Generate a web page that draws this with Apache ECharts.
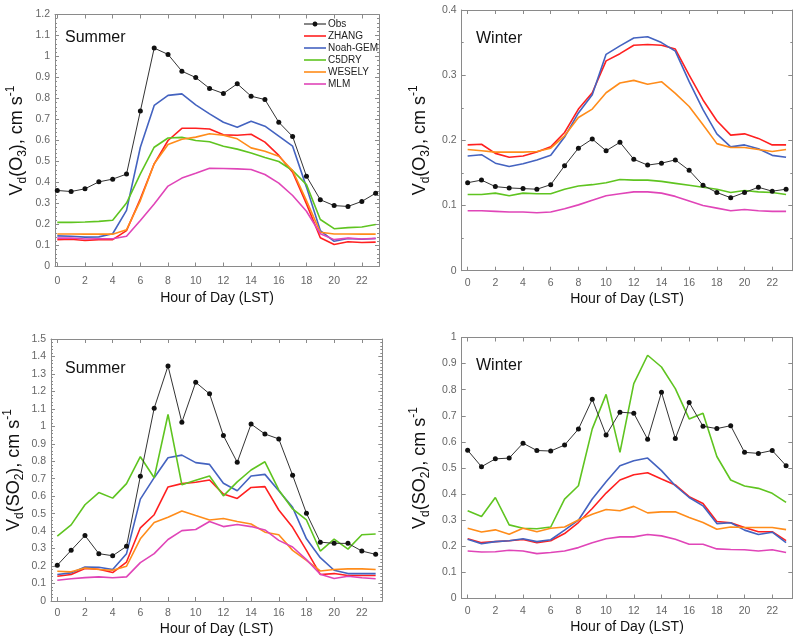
<!DOCTYPE html>
<html><head><meta charset="utf-8">
<script src="https://cdn.jsdelivr.net/npm/echarts@6/dist/echarts.min.js"></script>
<style>html,body{margin:0;padding:0;background:#fff}#c{width:800px;height:641px}</style>
</head><body><div id="c"></div>
<script>
const hours = [0,1,2,3,4,5,6,7,8,9,10,11,12,13,14,15,16,17,18,19,20,21,22,23];
const xTicks = [0,2,4,6,8,10,12,14,16,18,20,22];
const seriesNames = ['Obs','ZHANG','Noah-GEM','C5DRY','WESELY','MLM'];
const panelTitles = ['Summer','Winter','Summer','Winter'];

// Panel 1: Summer O3
const sO3_Obs   = [0.362,0.357,0.370,0.403,0.416,0.440,0.740,1.040,1.010,0.930,0.900,0.848,0.824,0.870,0.811,0.795,0.687,0.619,0.430,0.318,0.290,0.286,0.310,0.349];
const sO3_ZHANG = [0.128,0.130,0.124,0.128,0.128,0.171,0.322,0.489,0.600,0.658,0.658,0.655,0.627,0.625,0.630,0.592,0.529,0.449,0.298,0.137,0.105,0.118,0.114,0.116];
const sO3_NOAH  = [0.146,0.144,0.140,0.141,0.156,0.267,0.568,0.767,0.815,0.822,0.770,0.727,0.687,0.663,0.692,0.668,0.621,0.573,0.378,0.171,0.120,0.133,0.130,0.133];
const sO3_C5    = [0.210,0.210,0.212,0.215,0.220,0.302,0.441,0.568,0.612,0.615,0.600,0.594,0.573,0.559,0.540,0.519,0.500,0.457,0.390,0.224,0.180,0.185,0.188,0.200];
const sO3_WES   = [0.155,0.155,0.154,0.155,0.154,0.175,0.314,0.489,0.581,0.606,0.616,0.632,0.625,0.608,0.565,0.549,0.525,0.457,0.314,0.163,0.155,0.155,0.154,0.154];
const sO3_MLM   = [0.135,0.136,0.131,0.132,0.132,0.144,0.219,0.298,0.383,0.421,0.444,0.468,0.467,0.465,0.462,0.438,0.397,0.338,0.263,0.156,0.128,0.135,0.131,0.134];

// Panel 2: Winter O3
const wO3_Obs   = [0.135,0.139,0.129,0.127,0.126,0.125,0.132,0.161,0.188,0.202,0.184,0.197,0.171,0.162,0.165,0.170,0.154,0.131,0.120,0.112,0.120,0.128,0.122,0.125];
const wO3_ZHANG = [0.193,0.194,0.180,0.174,0.176,0.182,0.190,0.212,0.248,0.273,0.322,0.333,0.346,0.347,0.346,0.340,0.300,0.262,0.230,0.208,0.210,0.203,0.193,0.193];
const wO3_NOAH  = [0.176,0.178,0.165,0.160,0.164,0.170,0.177,0.205,0.242,0.270,0.332,0.345,0.357,0.359,0.350,0.337,0.290,0.247,0.210,0.190,0.193,0.187,0.177,0.174];
const wO3_C5    = [0.117,0.117,0.119,0.115,0.119,0.118,0.118,0.125,0.130,0.132,0.135,0.140,0.139,0.139,0.137,0.134,0.131,0.128,0.125,0.120,0.123,0.121,0.120,0.117];
const wO3_WES   = [0.186,0.184,0.182,0.182,0.182,0.183,0.188,0.207,0.235,0.248,0.273,0.288,0.292,0.286,0.290,0.272,0.252,0.224,0.195,0.189,0.189,0.186,0.183,0.186];
const wO3_MLM   = [0.092,0.092,0.091,0.090,0.090,0.089,0.090,0.095,0.101,0.108,0.115,0.118,0.121,0.121,0.119,0.114,0.107,0.100,0.096,0.092,0.094,0.092,0.091,0.091];

// Panel 3: Summer SO2
const sSO2_Obs   = [0.205,0.290,0.375,0.271,0.259,0.313,0.714,1.104,1.345,1.023,1.252,1.186,0.947,0.794,1.013,0.956,0.928,0.720,0.502,0.337,0.330,0.330,0.286,0.267];
const sSO2_ZHANG = [0.142,0.152,0.186,0.182,0.163,0.223,0.419,0.494,0.653,0.672,0.680,0.693,0.612,0.587,0.650,0.655,0.521,0.422,0.290,0.152,0.157,0.146,0.146,0.146];
const sSO2_NOAH  = [0.152,0.161,0.195,0.193,0.180,0.271,0.583,0.706,0.820,0.835,0.792,0.782,0.674,0.631,0.716,0.725,0.631,0.536,0.356,0.248,0.176,0.157,0.157,0.157];
const sSO2_C5    = [0.371,0.436,0.551,0.621,0.589,0.672,0.826,0.706,1.068,0.665,0.691,0.716,0.602,0.682,0.750,0.797,0.636,0.527,0.464,0.286,0.354,0.297,0.379,0.384];
const sSO2_WES   = [0.170,0.167,0.189,0.180,0.176,0.199,0.356,0.449,0.479,0.515,0.489,0.464,0.472,0.455,0.441,0.394,0.379,0.290,0.233,0.172,0.180,0.184,0.184,0.180];
const sSO2_MLM   = [0.119,0.127,0.134,0.138,0.133,0.138,0.220,0.271,0.352,0.403,0.409,0.455,0.426,0.438,0.426,0.407,0.347,0.309,0.237,0.153,0.129,0.142,0.133,0.127];

// Panel 4: Winter SO2
const wSO2_Obs   = [0.568,0.505,0.535,0.538,0.595,0.567,0.565,0.588,0.649,0.763,0.626,0.714,0.710,0.610,0.790,0.613,0.751,0.660,0.651,0.662,0.560,0.556,0.567,0.509];
const wSO2_ZHANG = [0.229,0.214,0.218,0.221,0.226,0.214,0.221,0.249,0.291,0.345,0.404,0.454,0.474,0.482,0.458,0.435,0.390,0.364,0.295,0.290,0.272,0.256,0.256,0.222];
const wSO2_NOAH  = [0.227,0.210,0.218,0.221,0.229,0.218,0.225,0.262,0.300,0.381,0.447,0.509,0.528,0.538,0.490,0.432,0.387,0.355,0.287,0.290,0.262,0.245,0.254,0.214];
const wSO2_C5    = [0.336,0.314,0.387,0.282,0.269,0.267,0.274,0.381,0.432,0.650,0.782,0.560,0.823,0.932,0.887,0.804,0.688,0.710,0.544,0.454,0.431,0.422,0.403,0.368];
const wSO2_WES   = [0.269,0.255,0.263,0.246,0.269,0.256,0.269,0.274,0.301,0.323,0.341,0.336,0.353,0.328,0.332,0.332,0.310,0.291,0.265,0.274,0.272,0.272,0.272,0.264];
const wSO2_MLM   = [0.182,0.178,0.179,0.185,0.182,0.172,0.176,0.182,0.195,0.214,0.229,0.236,0.236,0.245,0.240,0.227,0.208,0.208,0.190,0.188,0.187,0.182,0.187,0.176];

const panelData = [
  [sO3_Obs, sO3_ZHANG, sO3_NOAH, sO3_C5, sO3_WES, sO3_MLM],
  [wO3_Obs, wO3_ZHANG, wO3_NOAH, wO3_C5, wO3_WES, wO3_MLM],
  [sSO2_Obs, sSO2_ZHANG, sSO2_NOAH, sSO2_C5, sSO2_WES, sSO2_MLM],
  [wSO2_Obs, wSO2_ZHANG, wSO2_NOAH, wSO2_C5, wSO2_WES, wSO2_MLM]
];
const yMax = [1.2, 0.4, 1.5, 1.0];
const species = ['3', '3', '2', '2'];
const speciesName = ['O', 'O', 'SO', 'SO'];

// layout (styles only)
const colors = ['#333333','#ff2020','#4463c0','#5fc420','#ff8c1a','#e045b8'];
const grids = [
  {left:55, top:14.5, width:324, height:252, xmin:-0.166, xmax:23.24, minor:5, nameGap:26, lblMargin:9, xNameGap:25},
  {left:461.7, top:10, width:330.6, height:260.7, xmin:-0.43, xmax:23.45, minor:2, nameGap:30, lblMargin:7, xNameGap:21.5},
  {left:51, top:339, width:331.3, height:262, xmin:-0.455, xmax:23.48, minor:5, nameGap:25, lblMargin:7, xNameGap:21.5},
  {left:461.7, top:337.5, width:330.6, height:261, xmin:-0.43, xmax:23.45, minor:0, nameGap:30, lblMargin:7, xNameGap:21.5}
];
const titlePos = [[65,30],[476,31],[65,361],[476,358]];

const axisColor = '#8a8a8a';
const labelColor = '#666';
const fontFam = '"Liberation Sans", Arial, sans-serif';
const lineIcon = 'path://M0,0M0,10M0,4.2H22V5.8H0Z';
const obsIcon = 'path://M0,0M0,10M0,4.5H8.551A2.5,2.5,0,0,1,13.449,4.5H22V5.5H13.449A2.5,2.5,0,0,1,8.551,5.5H0Z';

const option = {
  animation: false,
  backgroundColor: '#fff',
  textStyle: {fontFamily: fontFam},
  title: panelTitles.map((t,i)=>({text:t, left:titlePos[i][0], top:titlePos[i][1], padding:0,
    textStyle:{fontSize:16, fontWeight:'normal', color:'#111', fontFamily:fontFam}})),
  legend: {
    orient:'vertical', left:304, top:18, itemWidth:22, itemHeight:10, itemGap:0,
    padding:0,
    data: seriesNames.map((n,k)=>({name:n, icon: k===0 ? obsIcon : lineIcon})),
    textStyle:{fontSize:10, color:'#222', lineHeight:12, fontFamily:fontFam, padding:[0,0,0,-3]}
  },
  grid: grids.map(g=>({left:g.left, top:g.top, width:g.width, height:g.height, containLabel:false})),
  xAxis: [], yAxis: [], series: []
};

grids.forEach((g,i)=>{
  const common = {type:'value', gridIndex:i, min:g.xmin, max:g.xmax,
    axisLine:{show:true, onZero:false, lineStyle:{color:axisColor, width:1}},
    splitLine:{show:false}};
  option.xAxis.push(Object.assign({}, common, {
    position:'bottom',
    axisTick:{show:true, inside:true, length:4, customValues:xTicks, lineStyle:{color:axisColor}},
    axisLabel:{show:true, customValues:xTicks, color:labelColor, fontSize:10.5, margin:g.lblMargin, fontFamily:fontFam},
    name:'Hour of Day (LST)', nameLocation:'middle', nameGap:g.xNameGap,
    nameTextStyle:{fontSize:14, color:'#111', fontFamily:fontFam}
  }));
  option.xAxis.push(Object.assign({}, common, {
    position:'top',
    axisTick:{show:true, inside:true, length:4, customValues:xTicks, lineStyle:{color:axisColor}},
    axisLabel:{show:false}
  }));
  const ycommon = {type:'value', gridIndex:i, min:0, max:yMax[i], interval:0.1,
    axisLine:{show:true, onZero:false, lineStyle:{color:axisColor, width:1}},
    splitLine:{show:false},
    axisTick:{show:true, inside:true, length:4, lineStyle:{color:axisColor}},
    minorTick:{show:g.minor>0, splitNumber:g.minor||2, length:2, lineStyle:{color:axisColor}}
  };
  option.yAxis.push(Object.assign({}, ycommon, {
    position:'left',
    axisLabel:{show:true, color:labelColor, fontSize:10.5, margin:5, fontFamily:fontFam,
      formatter:v=>String(Math.round(v*10)/10)},
    name:'{m|V}{s|d}{m|(' + speciesName[i] + '}{s|' + species[i] + '}{m|), cm s}{p|-1}',
    nameLocation:'middle', nameRotate:90, nameGap:g.nameGap,
    nameTextStyle:{color:'#111', fontFamily:fontFam, rich:{
      m:{fontSize:18, lineHeight:24, verticalAlign:'middle', color:'#111', fontFamily:fontFam},
      s:{fontSize:12, lineHeight:12, verticalAlign:'bottom', color:'#111', fontFamily:fontFam},
      p:{fontSize:12, lineHeight:12, verticalAlign:'top', color:'#111', fontFamily:fontFam}
    }}
  }));
  option.yAxis.push(Object.assign({}, ycommon, {
    position:'right', axisLabel:{show:false}
  }));

  panelData[i].forEach((arr,k)=>{
    const isObs = k===0;
    option.series.push({
      type:'line', name:seriesNames[k], xAxisIndex:2*i, yAxisIndex:2*i,
      data: hours.map((h,j)=>[h, arr[j]]),
      showSymbol:isObs, symbol:isObs?'circle':'none', symbolSize:5,
      itemStyle:{color:isObs?'#111':colors[k]},
      lineStyle:{color:colors[k], width:isObs?1:1.6},
      z: isObs?5:3,
      silent:true
    });
  });
});

const chart = echarts.init(document.getElementById('c'), null, {renderer:'canvas'});
chart.setOption(option);
</script>
</body></html>
